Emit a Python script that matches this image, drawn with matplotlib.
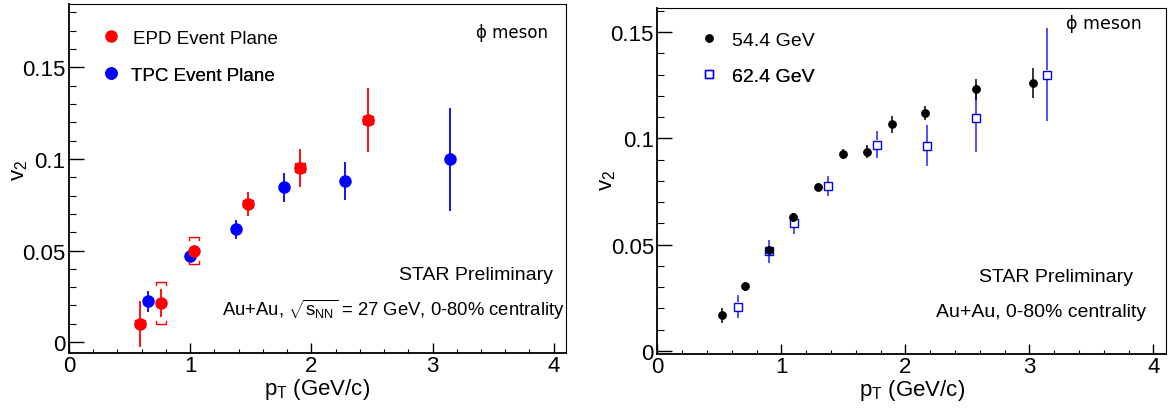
import matplotlib
matplotlib.use('Agg')
import matplotlib.pyplot as plt
from matplotlib.ticker import MultipleLocator, FuncFormatter

plt.rcParams['font.family'] = ['Liberation Sans', 'DejaVu Sans']
plt.rcParams['mathtext.fontset'] = 'custom'
plt.rcParams['mathtext.rm'] = 'Liberation Sans'
plt.rcParams['mathtext.it'] = 'Liberation Sans:italic'
plt.rcParams['mathtext.bf'] = 'Liberation Sans:bold'

# 左图：27 GeV，EPD / TPC 事件平面
epd_pt = [0.587, 0.760, 1.033, 1.480, 1.908, 2.467]
epd_v2 = [0.0100, 0.0213, 0.0500, 0.0755, 0.0951, 0.1213]
epd_err = [0.0127, 0.0077, 0.0030, 0.0064, 0.0105, 0.0175]
epd_sys = [0.0020, 0.0114, 0.0075, 0.0020, 0.0025, 0.0020]

tpc_pt = [0.655, 0.999, 1.378, 1.778, 2.275, 3.143]
tpc_v2 = [0.0222, 0.0469, 0.0615, 0.0845, 0.0880, 0.0998]
tpc_err = [0.0056, 0.0030, 0.0054, 0.0080, 0.0103, 0.0280]

# 右图：54.4 GeV 与 62.4 GeV
pt_544 = [0.521, 0.708, 0.902, 1.095, 1.295, 1.494, 1.693, 1.890, 2.161, 2.568, 3.033]
v2_544 = [0.0167, 0.0304, 0.0474, 0.0628, 0.0771, 0.0927, 0.0938, 0.1067, 0.1122, 0.1231, 0.1261]
err_544 = [0.0037, 0.0020, 0.0020, 0.0020, 0.0020, 0.0025, 0.0030, 0.0040, 0.0033, 0.0050, 0.0070]

pt_624 = [0.649, 0.902, 1.098, 1.375, 1.774, 2.173, 2.568, 3.140]
v2_624 = [0.0208, 0.0469, 0.0600, 0.0774, 0.0971, 0.0965, 0.1096, 0.1300]
err_624 = [0.0053, 0.0053, 0.0050, 0.0047, 0.0065, 0.0096, 0.0160, 0.0220]

fig = plt.figure(figsize=(11.68, 4.10), dpi=100)
ax1 = fig.add_axes([0.0591, 0.1373, 0.4253, 0.8505])
ax2 = fig.add_axes([0.5628, 0.1349, 0.4353, 0.8432])


def fmt(v, pos):
    if abs(v) < 1e-9:
        v = 0
    return f'{v:g}'


def style_axes(ax, ylim):
    ax.set_xlim(0, 4.1)
    ax.set_ylim(*ylim)
    ax.xaxis.set_major_locator(MultipleLocator(1))
    ax.xaxis.set_minor_locator(MultipleLocator(0.2))
    ax.yaxis.set_major_locator(MultipleLocator(0.05))
    ax.yaxis.set_minor_locator(MultipleLocator(0.01))
    ax.xaxis.set_major_formatter(FuncFormatter(fmt))
    ax.yaxis.set_major_formatter(FuncFormatter(fmt))
    ax.tick_params(which='both', direction='in', top=False, right=False, labelsize=16)
    ax.tick_params(axis='y', which='major', length=10.8, width=1.0, pad=2.5)
    ax.tick_params(axis='y', which='minor', length=5.2, width=0.8)
    ax.tick_params(axis='x', which='major', length=7.2, width=1.0, pad=1.8)
    ax.tick_params(axis='x', which='minor', length=3.1, width=0.8)
    ax.spines['left'].set_linewidth(1.3)
    ax.spines['bottom'].set_linewidth(1.3)
    ax.spines['top'].set_linewidth(0.8)
    ax.spines['right'].set_linewidth(0.8)
    ax.set_xlabel(r'p$_{\mathrm{T}}$ (GeV/c)', fontsize=16)
    ax.set_ylabel(r'v$_{2}$', fontsize=16)


def one_legend(ax, handle, label, x, y, fs, pad):
    leg = ax.legend([handle], [label], loc='center left', bbox_to_anchor=(x, y),
                    bbox_transform=ax.transAxes, frameon=False, fontsize=fs,
                    handlelength=1.0, handletextpad=pad, borderpad=0,
                    borderaxespad=0, numpoints=1)
    ax.add_artist(leg)


# ---- 左图 ----
style_axes(ax1, (-0.0058, 0.1846))
ax1.xaxis.set_label_coords(0.5, -0.068)
ax1.yaxis.set_label_coords(-0.0785, 0.527)

# 系统误差括号
w = 0.04
d = 0.0018
for x, y, s in zip(epd_pt, epd_v2, epd_sys):
    ax1.plot([x - w, x - w, x + w, x + w], [y + s - d, y + s, y + s, y + s - d],
             color='red', lw=1.0, zorder=2)
    ax1.plot([x - w, x - w, x + w, x + w], [y - s + d, y - s, y - s, y - s + d],
             color='red', lw=1.0, zorder=2)

eb_tpc = ax1.errorbar(tpc_pt, tpc_v2, yerr=tpc_err, fmt='o', color='blue',
                      ms=8, elinewidth=1.3, capsize=0, zorder=3)
eb_epd = ax1.errorbar(epd_pt, epd_v2, yerr=epd_err, fmt='o', color='red',
                      ms=8, elinewidth=1.3, capsize=0, zorder=4)

one_legend(ax1, eb_epd[0], 'EPD Event Plane', 0.0650, 0.9016, 13.5, 0.68)
one_legend(ax1, eb_tpc[0], 'TPC Event Plane', 0.0650, 0.7955, 13.5, 0.56)

ax1.text(0.9636, 0.9197, 'ϕ meson', transform=ax1.transAxes, ha='right',
         va='center', fontsize=12, family=['DejaVu Sans'])
ax1.text(0.975, 0.2257, 'STAR Preliminary', transform=ax1.transAxes,
         ha='right', va='center', fontsize=14)
ax1.text(0.9976, 0.1253,
         r'Au+Au, $\sqrt{\mathrm{s}_{\mathrm{NN}}}$ = 27 GeV, 0-80% centrality',
         transform=ax1.transAxes, ha='right', va='center', fontsize=13.3)

# ---- 右图 ----
style_axes(ax2, (-0.0013, 0.1614))
ax2.xaxis.set_label_coords(0.5, -0.068)
ax2.yaxis.set_label_coords(-0.078, 0.505)

# 空心方块：误差棒在标记处断开
sq_ms = 6.2
p0 = ax2.transData.transform((0, 0))
p1 = ax2.transData.transform((0, 1))
gap = (sq_ms / 2 * 100 / 72) / (p1[1] - p0[1])
for x, y, e in zip(pt_624, v2_624, err_624):
    ax2.vlines(x, y + gap, y + e, color='#2020ff', lw=1.1, zorder=2)
    ax2.vlines(x, y - e, y - gap, color='#2020ff', lw=1.1, zorder=2)
sq_line, = ax2.plot(pt_624, v2_624, 's', ms=sq_ms, mfc='none', mec='blue',
                    mew=1.0, zorder=3)

eb_544 = ax2.errorbar(pt_544, v2_544, yerr=err_544, fmt='o', color='black',
                      ms=5.3, elinewidth=1.1, capsize=0, zorder=4)

one_legend(ax2, eb_544[0], '54.4 GeV', 0.0828, 0.9074, 14, 0.68)
one_legend(ax2, sq_line, '62.4 GeV', 0.0828, 0.8033, 14, 0.68)

ax2.text(0.9524, 0.9566, 'ϕ meson', transform=ax2.transAxes, ha='right',
         va='center', fontsize=12.5, family=['DejaVu Sans'])
ax2.text(0.9363, 0.2219, 'STAR Preliminary', transform=ax2.transAxes,
         ha='right', va='center', fontsize=14)
ax2.text(0.961, 0.1206, 'Au+Au, 0-80% centrality', transform=ax2.transAxes,
         ha='right', va='center', fontsize=14)

fig.savefig('out.png', dpi=100)
